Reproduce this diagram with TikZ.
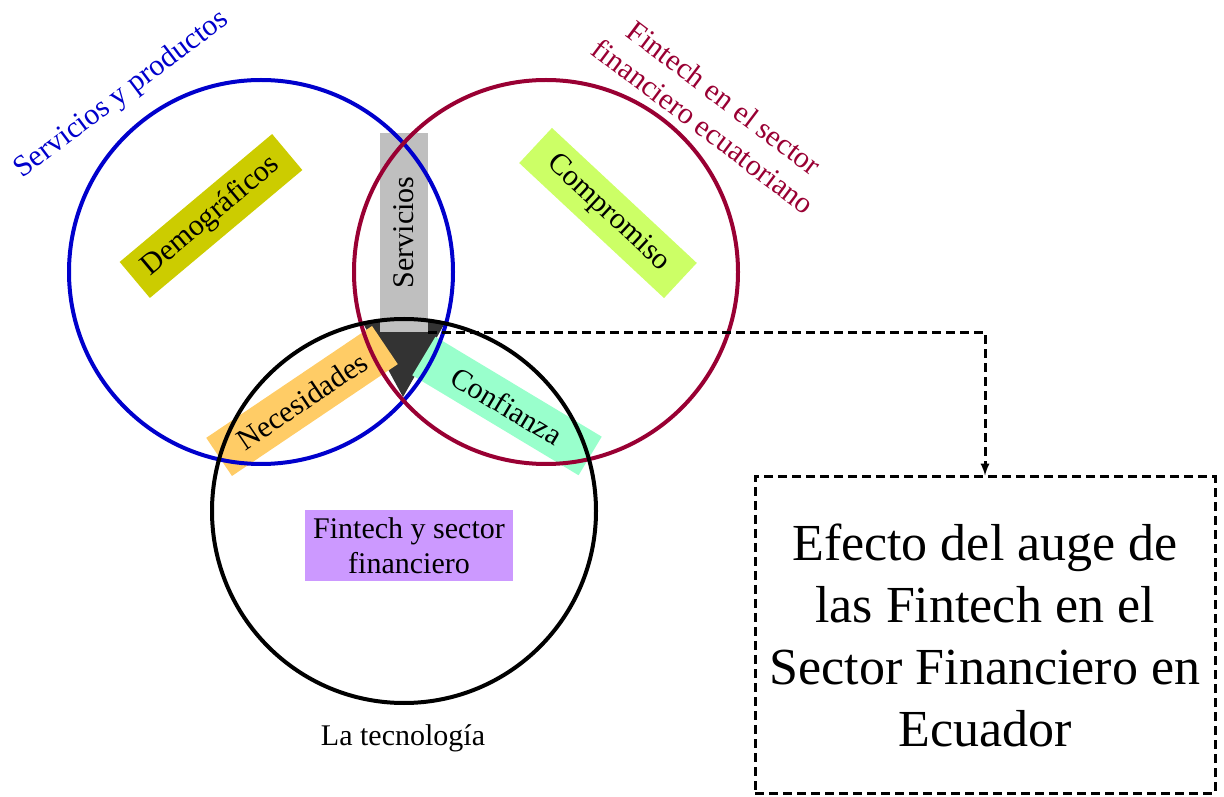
\documentclass[tikz,border=0pt]{standalone}
\usepackage{fontspec}
\setmainfont{Liberation Serif}
\usepackage{tikz}
\usetikzlibrary{shapes}
\usetikzlibrary{arrows}

\definecolor{azul}{HTML}{0000CC}
\definecolor{vino}{HTML}{990033}
\definecolor{oliva}{HTML}{CCCC00}
\definecolor{limon}{HTML}{CCFF66}
\definecolor{gris}{HTML}{BFBFBF}
\definecolor{oscuro}{HTML}{333333}
\definecolor{naranja}{HTML}{FFCC66}
\definecolor{menta}{HTML}{99FFCC}
\definecolor{lila}{HTML}{CC99FF}

\begin{document}
\begin{tikzpicture}[x=1pt,y=1pt]
			\tikzstyle{etiqueta}=[rectangle, inner sep=0pt, minimum height=47, font=\fontsize{30}{35}\selectfont]
			\tikzstyle{anillo}=[circle, draw, line width=4pt, minimum size=384, inner sep=0pt]
			\tikzstyle{rayado}=[dash pattern=on 9pt off 5pt, line width=3pt]
			
			\useasboundingbox (0,0) rectangle (1224,796);
			
			% punta oscura bajo la barra
			\begin{scope}
			\clip (404,285) circle (192);
			\fill[oscuro] (358,482) -- (450,482) -- (403,399) -- cycle;
			\end{scope}
			
			\node[etiqueta, fill=oliva, minimum width=199, rotate=40] (demo) at (211,580) {Demográficos};
			\node[etiqueta, fill=limon, minimum width=198, minimum height=48, rotate=-43] (comp) at (608,583) {Compromiso};
			\node[etiqueta, fill=gris, minimum width=199, minimum height=48, rotate=90] (serv) at (404,563.5) {Servicios};
			\node[etiqueta, fill=naranja, minimum width=200, minimum height=46, rotate=34] (nece) at (302,395) {Necesidades};
			\node[etiqueta, fill=menta, minimum width=194, minimum height=45, rotate=-31] (conf) at (507,390) {Confianza};
			\node[etiqueta, fill=lila, minimum width=208, minimum height=71, align=center] (fin) at (409,250) {Fintech y sector\\financiero};
			
			% los tres circulos
			\node[anillo, draw=azul] (prod) at (261,524) {};
			\node[anillo, draw=vino] (sect) at (546,524) {};
			\node[anillo, draw=black] (tec) at (404,285) {};
			
			\node[etiqueta, text=azul, rotate=37] (lprod) at (122,701) {Servicios y productos};
			\node[etiqueta, text=vino, rotate=-37, align=center] (lsect) at (714,684) {Fintech en el sector\\financiero ecuatoriano};
			\node[etiqueta] (ltec) at (403,58) {La tecnología};
			
			\node[rayado, draw, minimum width=460, minimum height=316, align=center, font=\fontsize{52}{62}\selectfont] (efecto) at (985,161) {Efecto del auge de\\las Fintech en el\\Sector Financiero en\\Ecuador};
			\draw[rayado, -latex] (serv.south west) -| (efecto.north);
\end{tikzpicture}
\end{document}
